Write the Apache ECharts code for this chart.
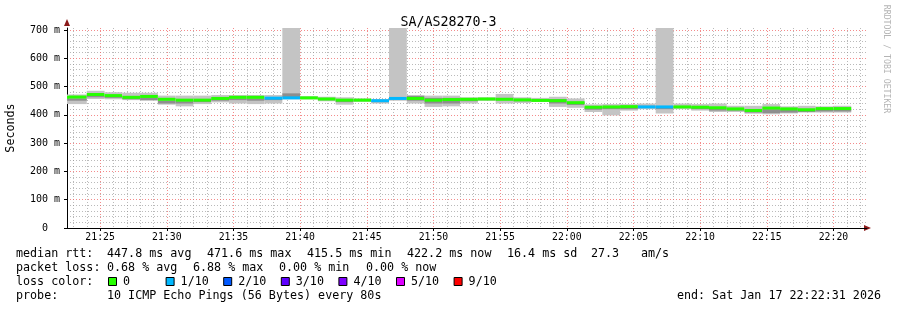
<!DOCTYPE html>
<html><head><meta charset="utf-8">
<script src="https://cdn.jsdelivr.net/npm/echarts@6/dist/echarts.min.js"></script>
<style>html,body{margin:0;padding:0;background:#fff}#c{width:897px;height:310px}</style>
</head><body><div id="c"></div>
<script>
// ---------- data ----------
const titleText = 'SA/AS28270-3';
const axisStart = '21:22:31';
const axisEnd = '22:22:31';
const stepSeconds = 80;
const stepStart = ['21:21:20','21:22:40','21:24:00','21:25:20','21:26:40','21:28:00','21:29:20','21:30:40','21:32:00','21:33:20',
  '21:34:40','21:36:00','21:37:20','21:38:40','21:40:00','21:41:20','21:42:40','21:44:00','21:45:20','21:46:40',
  '21:48:00','21:49:20','21:50:40','21:52:00','21:53:20','21:54:40','21:56:00','21:57:20','21:58:40','22:00:00',
  '22:01:20','22:02:40','22:04:00','22:05:20','22:06:40','22:08:00','22:09:20','22:10:40','22:12:00','22:13:20',
  '22:14:40','22:16:00','22:17:20','22:18:40','22:20:00'];
const medianMs = [462,463,472,468,462,465,455,452,452,458,
  462,462,459,460,460,456,452,452,450,458,
  458,452,454,455,456,455,453,451,450,443,
  427,428,429,428,428,428,427,425,421,415.5,
  424,421,418,422,422.2];
const lossTenths = [0,0,0,0,0,0,0,0,0,0,
  0,0,1,1,0,0,0,0,1,1,
  0,0,0,0,0,0,0,0,0,0,
  0,0,0,1,1,0,0,0,0,0,
  0,0,0,0,0];
const smokeMinMs = [438,438,456,455,452,450,436,430,438,444,
  440,438,440,455,455,448,436,446,440,450,
  440,428,430,440,450,440,442,446,428,425,
  410,398,415,420,405,420,415,410,410,404,
  402,405,408,408,408];
const smokeMaxMs = [472,472,485,480,478,478,468,468,468,470,
  470,470,470,720,466,464,462,458,456,720,
  468,468,468,462,462,474,462,460,464,458,
  437,438,438,440,720,440,438,440,432,432,
  438,430,432,430,432];
const innerLowMs = [450,450,462,460,455,452,440,440,445,450,
  452,450,452,462,458,452,445,450,445,455,
  450,440,440,448,452,452,448,448,440,435,
  418,420,420,425,420,425,420,415,415,408,
  406,408,410,412,412];
const innerHighMs = [458,458,468,465,460,460,450,448,450,456,
  458,458,457,476,462,458,450,455,450,460,
  468,460,460,455,456,460,452,452,456,445,
  426,428,430,432,430,430,428,424,420,416,
  420,418,416,420,420];
const xTickLabels = ['21:25','21:30','21:35','21:40','21:45','21:50','21:55','22:00','22:05','22:10','22:15','22:20'];
const yTickValues = [0,100,200,300,400,500,600,700];
const yMinorStep = 20;
const yMax = 707;
const lossLabels = ['0','1/10','2/10','3/10','4/10','5/10','9/10'];
const lossColors = ['#26ff00','#00b8ff','#0059ff','#5e00ff','#7e00ff','#dd00ff','#ff0000'];
const statsRtt = ['median rtt:','447.8 ms avg','471.6 ms max','415.5 ms min','422.2 ms now','16.4 ms sd','27.3','am/s'];
const statsLoss = ['packet loss:','0.68 % avg','6.88 % max','0.00 % min','0.00 % now'];
const probeText = ['probe:','10 ICMP Echo Pings (56 Bytes) every 80s'];
const endText = 'end: Sat Jan 17 22:22:31 2026';
const yAxisName = 'Seconds';
const sideText = 'RRDTOOL / TOBI OETIKER';

// ---------- helpers ----------
function sec(hms){const p=hms.split(':').map(Number);return p[0]*3600+p[1]*60+(p[2]||0);}
const t0 = sec(axisStart), span = sec(axisEnd)-t0;
const majorX = xTickLabels.map(l=>sec(l)-t0);
const minorX = [];
for(let m=Math.ceil(t0/60)*60; m<=t0+span; m+=60){ if(m%300!==0) minorX.push(m-t0); }
const minorY = [];
for(let v=yMinorStep; v<=yMax; v+=yMinorStep){ if(v%100!==0) minorY.push(v); }
const FONT = 'DejaVu Sans Mono';

const seriesData = stepStart.map((s,i)=>{
  const a = sec(s)-t0;
  return [a, a+stepSeconds, smokeMinMs[i], smokeMaxMs[i], innerLowMs[i], innerHighMs[i], medianMs[i], lossTenths[i]];
});

function renderItem(params, api){
  const cs = params.coordSys;
  const clip = {x:cs.x,y:cs.y,width:cs.width,height:cs.height};
  const x0=api.value(0), x1=api.value(1);
  function rect(lo,hi){
    const a=api.coord([x0,hi]), b=api.coord([x1,lo]);
    return echarts.graphic.clipRectByRect({x:a[0],y:a[1],width:b[0]-a[0],height:b[1]-a[1]}, clip);
  }
  const children=[];
  const r1=rect(api.value(2),api.value(3));
  if(r1) children.push({type:'rect',shape:r1,style:{fill:'#c4c4c4'}});
  const r2=rect(api.value(4),api.value(5));
  if(r2) children.push({type:'rect',shape:r2,style:{fill:'#8e8e8e'}});
  const my=api.coord([x0,api.value(6)])[1];
  const a=api.coord([x0,0]), b=api.coord([x1,0]);
  const rm=echarts.graphic.clipRectByRect({x:a[0],y:my-1.5,width:b[0]-a[0],height:3}, clip);
  if(rm) children.push({type:'rect',shape:rm,style:{fill:lossColors[api.value(7)]}});
  return {type:'group',children};
}

const gridMinor = {color:'rgba(140,140,140,0.6)', width:1, type:[1,2]};
const gridMajor = {color:'rgba(240,100,100,0.75)', width:1, type:[1,2]};

const graphics = [];
function txt(x,y,t,opt){graphics.push({type:'text',x:x,y:y,style:Object.assign({text:t,fontFamily:FONT,fontSize:11.7,fill:'#000',textVerticalAlign:'middle'},opt||{})});}
// stats rows
const rttX=[16,107,207,307,407,507,591,641];
statsRtt.forEach((t,i)=>txt(rttX[i],254,t));
const lossX=[16,107,193,279,366];
statsLoss.forEach((t,i)=>txt(lossX[i],268,t));
txt(16,282,'loss color:');
lossLabels.forEach((l,i)=>{
  const bx=108+i*57.6;
  graphics.push({type:'rect',shape:{x:bx+0.5,y:277.5,width:8,height:8},style:{fill:lossColors[i],stroke:'#000',lineWidth:1}});
  txt(bx+15,282,l);
});
txt(16,296,probeText[0]);
txt(107,296,probeText[1]);
graphics.push({type:'text',x:881,y:296,style:{text:endText,fontFamily:FONT,fontSize:11.7,fill:'#000',textAlign:'right',textVerticalAlign:'middle'}});
graphics.push({type:'text',x:886,y:59,rotation:-Math.PI/2,style:{text:sideText,fontFamily:FONT,fontSize:8.2,fill:'#b4b4b4',textAlign:'center',textVerticalAlign:'middle'}});
// axis arrows
graphics.push({type:'polygon',shape:{points:[[864,225],[864,231],[871,228]]},style:{fill:'#8b1a1a'}});
graphics.push({type:'polygon',shape:{points:[[64,26],[70,26],[67,19]]},style:{fill:'#8b1a1a'}});

const option = {
  animation:false,
  backgroundColor:'#fff',
  title:{text:titleText,left:'center',top:11,textStyle:{fontFamily:FONT,fontSize:13.3,fontWeight:'normal',color:'#000'}},
  grid:{left:67,top:28,width:800,height:200,containLabel:false,outerBoundsMode:'none'},
  xAxis:[
    {type:'value',min:0,max:span,position:'bottom',
     axisLine:{show:true,lineStyle:{color:'#000',width:1}},
     axisTick:{show:true,customValues:majorX,length:3,lineStyle:{color:'#000'}},
     axisLabel:{show:true,customValues:majorX,margin:4,fontFamily:FONT,fontSize:9.8,color:'#000',
       formatter:v=>{const i=majorX.indexOf(v);return i>=0?xTickLabels[i]:'';}},
     splitLine:{show:true,customValues:majorX,lineStyle:gridMajor},z:1},
    {type:'value',min:0,max:span,position:'bottom',
     axisLine:{show:false},axisTick:{show:false,customValues:minorX},axisLabel:{show:false,customValues:minorX},
     splitLine:{show:true,customValues:minorX,lineStyle:gridMinor},z:0}
  ],
  yAxis:[
    {type:'value',min:0,max:yMax,name:yAxisName,nameLocation:'middle',nameGap:50,nameRotate:90,
     nameTextStyle:{fontFamily:FONT,fontSize:11.7,color:'#000'},
     axisLine:{show:true,lineStyle:{color:'#000',width:1}},
     axisTick:{show:true,customValues:yTickValues,length:3,lineStyle:{color:'#000'}},
     axisLabel:{show:true,customValues:yTickValues,margin:7,fontFamily:FONT,fontSize:10,color:'#000',
       formatter:v=>v===0?'0\u00a0\u00a0':(v+' m')},
     splitLine:{show:true,customValues:yTickValues,lineStyle:gridMajor},z:1},
    {type:'value',min:0,max:yMax,
     axisLine:{show:false},axisTick:{show:false,customValues:minorY},axisLabel:{show:false,customValues:minorY},
     splitLine:{show:true,customValues:minorY,lineStyle:gridMinor},z:0}
  ],
  series:[{type:'custom',xAxisIndex:0,yAxisIndex:0,renderItem:renderItem,data:seriesData,
    encode:{x:[0,1],y:[2,3,4,5,6]},clip:true,z:5}],
  graphic:graphics
};
const chart = echarts.init(document.getElementById('c'),null,{renderer:'canvas'});
chart.setOption(option);
</script></body></html>
